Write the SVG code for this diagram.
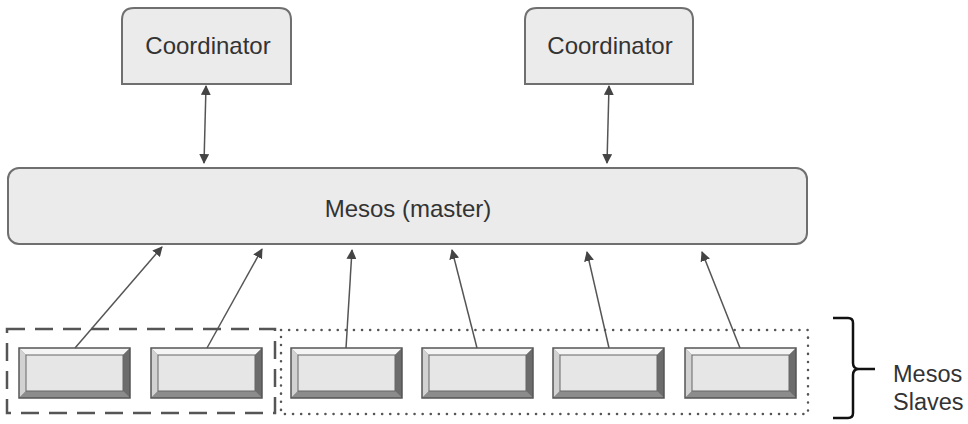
<svg xmlns="http://www.w3.org/2000/svg" width="968" height="424" viewBox="0 0 968 424">
<defs>
<style>
.box{fill:#ebebeb;stroke:#6f6f6f;stroke-width:2}
.lbl{font-family:"Liberation Sans",Arial,sans-serif;font-size:24px;fill:#333}
.conn{stroke:#555;stroke-width:1.5;fill:none}
.face{fill:#e6e6e6;stroke:#666;stroke-width:1}
.bt{fill:#f5f5f5}
.bl{fill:#d2d2d2}
.br{fill:#6c6c6c}
.bb{fill:#8c8c8c}
.outer{fill:none;stroke:#555;stroke-width:1.5}
</style>
<marker id="ah" viewBox="0 0 10 10" refX="9" refY="5" markerWidth="10" markerHeight="10" markerUnits="userSpaceOnUse" orient="auto-start-reverse">
<path d="M0,0 L10,5 L0,10 z" fill="#444"/>
</marker>
<g id="slave">
<rect x="0" y="0" width="111" height="50" fill="#888"/>
<polygon class="bt" points="0,0 111,0 104,7 7,7"/>
<polygon class="bl" points="0,0 7,7 7,43 0,50"/>
<polygon class="br" points="111,0 111,50 104,43 104,7"/>
<polygon class="bb" points="0,50 7,43 104,43 111,50"/>
<rect class="face" x="7" y="7" width="97" height="36"/>
<rect class="outer" x="0" y="0" width="111" height="50"/>
</g>
</defs>
<rect width="968" height="424" fill="#ffffff"/>

<g id="coordinator1">
<path class="box" d="M122,84 V20 Q122,8 134,8 H279 Q291,8 291,20 V84 Z"/>
<text class="lbl" x="208" y="54" text-anchor="middle">Coordinator</text>
</g>
<g id="coordinator2">
<path class="box" d="M525,84 V20 Q525,8 537,8 H681 Q693,8 693,20 V84 Z"/>
<text class="lbl" x="610" y="54" text-anchor="middle">Coordinator</text>
</g>

<g id="master">
<rect class="box" x="8" y="168" width="799" height="76" rx="11" ry="11"/>
<text class="lbl" x="408" y="217" text-anchor="middle">Mesos (master)</text>
</g>

<g id="group-dashed">
<rect x="7" y="329" width="268" height="84" fill="none" stroke="#555" stroke-width="2.5" stroke-dasharray="18,10"/>
</g>
<g id="group-dotted">
<rect x="281" y="330" width="527" height="84" fill="none" stroke="#555" stroke-width="2.5" stroke-linecap="round" stroke-dasharray="0.1,8"/>
</g>

<g id="slave1"><use href="#slave" x="19" y="348"/></g>
<g id="slave2"><use href="#slave" x="151" y="348"/></g>
<g id="slave3"><use href="#slave" x="291" y="348"/></g>
<g id="slave4"><use href="#slave" x="422" y="348"/></g>
<g id="slave5"><use href="#slave" x="553" y="348"/></g>
<g id="slave6"><use href="#slave" x="685" y="348"/></g>

<g id="connectors">
<line class="conn" x1="206" y1="86" x2="204" y2="163" marker-start="url(#ah)" marker-end="url(#ah)"/>
<line class="conn" x1="609" y1="86" x2="607" y2="163" marker-start="url(#ah)" marker-end="url(#ah)"/>
<line class="conn" x1="75" y1="348" x2="162" y2="247" marker-end="url(#ah)"/>
<line class="conn" x1="207" y1="348" x2="262" y2="249" marker-end="url(#ah)"/>
<line class="conn" x1="346" y1="348" x2="352" y2="250" marker-end="url(#ah)"/>
<line class="conn" x1="477" y1="348" x2="452" y2="250" marker-end="url(#ah)"/>
<line class="conn" x1="609" y1="348" x2="587" y2="252" marker-end="url(#ah)"/>
<line class="conn" x1="740" y1="348" x2="702" y2="252" marker-end="url(#ah)"/>
</g>

<g id="brace">
<path d="M833,318 H848 Q853,318 853,323 V363 Q853,369 859,369 H875 M859,369 Q853,369 853,375 V413 Q853,418 848,418 H833" fill="none" stroke="#111" stroke-width="2.5"/>
<text class="lbl" x="893" y="382" style="font-size:23.5px">Mesos</text>
<text class="lbl" x="893" y="410" style="font-size:23.5px">Slaves</text>
</g>
</svg>
